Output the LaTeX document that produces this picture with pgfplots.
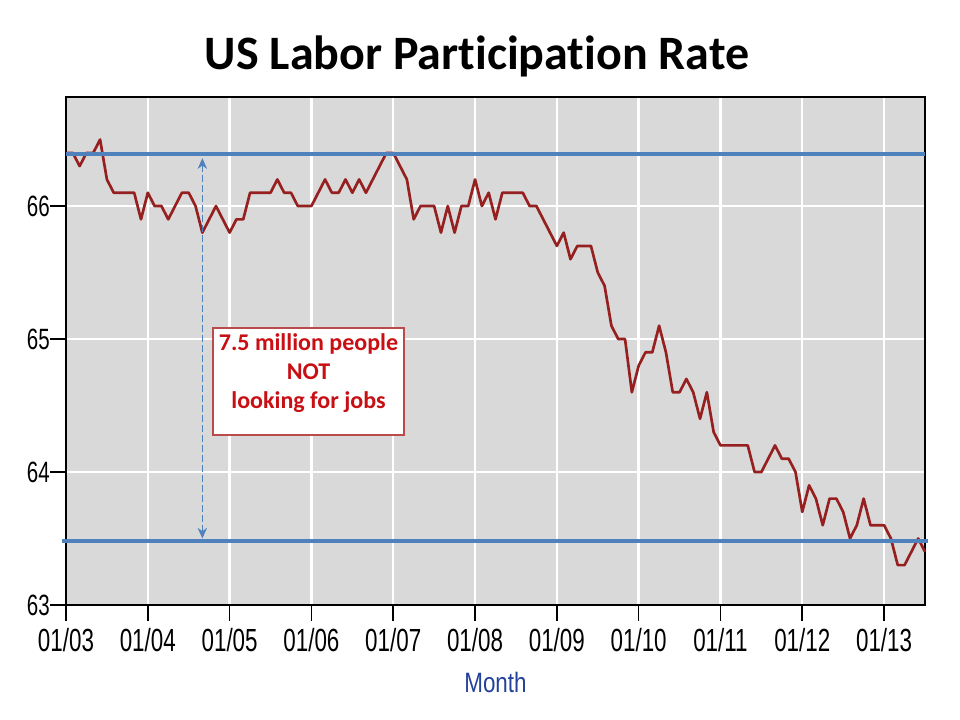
\documentclass[border=0pt]{standalone}
\usepackage{fontspec}
\usepackage{pgfplots}
\pgfplotsset{compat=1.18}
\usetikzlibrary{arrows.meta}
\setmainfont[Ligatures={NoCommon,NoRequired,NoContextual}]{Carlito}
\newfontfamily\tickfont[FakeStretch=0.70]{Liberation Sans}
\newfontfamily\monthfont[FakeStretch=0.80]{Liberation Sans}

\definecolor{plotbg}{RGB}{217,217,217}
\definecolor{lfpr}{RGB}{150,32,32}
\definecolor{refblue}{RGB}{79,129,189}
\definecolor{boxred}{RGB}{185,75,75}
\definecolor{txtred}{RGB}{200,15,20}
\definecolor{monthblue}{RGB}{35,65,155}

\begin{document}
\begin{tikzpicture}[x=0.75pt,y=0.75pt]
% page in reference pixels, y measured from the bottom
\path[use as bounding box] (0,0) rectangle (960,720);

\node[anchor=base,font=\fontsize{36}{40}\selectfont\bfseries] at (477,650) {US Labor Participation Rate};

\begin{axis}[
    at={(49.5pt,86.25pt)}, anchor=south west,
    scale only axis,
    width=644.25pt, height=381pt,
    xmin=0, xmax=126,
    ymin=63, ymax=66.82,
    xtick={0,12,...,120},
    xticklabels={01/03,01/04,01/05,01/06,01/07,01/08,01/09,01/10,01/11,01/12,01/13},
    ytick={63,64,65,66},
    yticklabels={63,64,65,66},
    tick align=outside,
    xtick pos=bottom, ytick pos=left,
    major tick length=12pt,
    tick style={black, line width=1.2pt},
    xticklabel style={font=\tickfont\fontsize{24}{26}\selectfont, inner sep=1pt, yshift=-4pt},
    yticklabel style={font=\tickfont\fontsize{22}{24}\selectfont, inner sep=0pt},
    axis background/.style={fill=plotbg},
    grid=major,
    major grid style={white, line width=1.8pt},
    axis line style={black, line width=1.8pt},
    xlabel={Month},
    every axis x label/.style={at={(axis description cs:0.5,0)}, anchor=base, yshift=-66pt,
        font=\monthfont\fontsize{21}{24}\selectfont, text=monthblue},
    clip=false,
]
\addplot[lfpr, line width=2pt, line join=round] coordinates {
(0,66.4) (1,66.4) (2,66.3) (3,66.4) (4,66.4) (5,66.5) (6,66.2) (7,66.1) (8,66.1) (9,66.1) (10,66.1) (11,65.9)
(12,66.1) (13,66.0) (14,66.0) (15,65.9) (16,66.0) (17,66.1) (18,66.1) (19,66.0) (20,65.8) (21,65.9) (22,66.0) (23,65.9)
(24,65.8) (25,65.9) (26,65.9) (27,66.1) (28,66.1) (29,66.1) (30,66.1) (31,66.2) (32,66.1) (33,66.1) (34,66.0) (35,66.0)
(36,66.0) (37,66.1) (38,66.2) (39,66.1) (40,66.1) (41,66.2) (42,66.1) (43,66.2) (44,66.1) (45,66.2) (46,66.3) (47,66.4)
(48,66.4) (49,66.3) (50,66.2) (51,65.9) (52,66.0) (53,66.0) (54,66.0) (55,65.8) (56,66.0) (57,65.8) (58,66.0) (59,66.0)
(60,66.2) (61,66.0) (62,66.1) (63,65.9) (64,66.1) (65,66.1) (66,66.1) (67,66.1) (68,66.0) (69,66.0) (70,65.9) (71,65.8)
(72,65.7) (73,65.8) (74,65.6) (75,65.7) (76,65.7) (77,65.7) (78,65.5) (79,65.4) (80,65.1) (81,65.0) (82,65.0) (83,64.6)
(84,64.8) (85,64.9) (86,64.9) (87,65.1) (88,64.9) (89,64.6) (90,64.6) (91,64.7) (92,64.6) (93,64.4) (94,64.6) (95,64.3)
(96,64.2) (97,64.2) (98,64.2) (99,64.2) (100,64.2) (101,64.0) (102,64.0) (103,64.1) (104,64.2) (105,64.1) (106,64.1) (107,64.0)
(108,63.7) (109,63.9) (110,63.8) (111,63.6) (112,63.8) (113,63.8) (114,63.7) (115,63.5) (116,63.6) (117,63.8) (118,63.6) (119,63.6)
(120,63.6) (121,63.5) (122,63.3) (123,63.3) (124,63.4) (125,63.5) (126,63.4)
};
% reference levels
\addplot[refblue, line width=2.6pt] coordinates {(0,66.39) (126,66.39)};
\addplot[refblue, line width=2.6pt] coordinates {(-0.6,63.48) (126.4,63.48)};
\draw[refblue, line width=0.8pt, dash pattern=on 5pt off 2.5pt,
      {Stealth[length=8pt,width=7pt,inset=2.5pt]}-{Stealth[length=8pt,width=7pt,inset=2.5pt]}]
      (axis cs:20,63.50) -- (axis cs:20,66.36);
\end{axis}

% annotation box
\draw[draw=boxred, fill=white, line width=2pt] (213,392) rectangle (404,285);
\begin{scope}[every node/.style={anchor=base, text=txtred, font=\fontsize{18}{22}\selectfont\bfseries}]
\node at (308.5,369.5) {7.5 million people};
\node at (308.5,340) {NOT};
\node at (308.5,311.5) {looking for jobs};
\end{scope}
\end{tikzpicture}
\end{document}
